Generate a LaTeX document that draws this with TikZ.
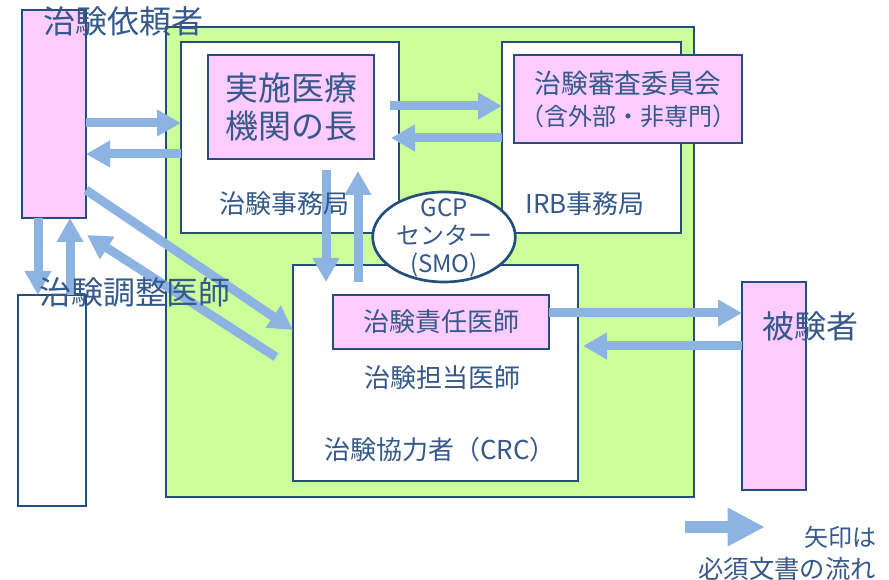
\documentclass[tikz,border=0pt]{standalone}
\usepackage{fontspec}
\setmainfont{Noto Sans CJK JP}
\usetikzlibrary{arrows.meta,fit,shapes.geometric}
\definecolor{pinkc}{HTML}{FFCCFF}
\definecolor{greenc}{HTML}{CCFF99}
\definecolor{borderc}{HTML}{244E7C}
\definecolor{arrowc}{HTML}{8DB3E2}
\definecolor{textc}{HTML}{34598A}
\begin{document}
\begin{tikzpicture}[x=0.75pt,y=-0.75pt,
  boxbase/.style={draw=borderc, line width=2pt, inner sep=0pt, outer sep=0pt},
  pinkbox/.style={boxbase, fill=pinkc},
  whitebox/.style={boxbase, fill=white},
  greenbox/.style={boxbase, fill=greenc},
  lab/.style={text=textc, inner sep=0pt, font=\fontsize{19.5}{22}\selectfont},
  biglab/.style={text=textc, inner sep=0pt, font=\fontsize{24}{26}\selectfont},
  flow/.style={draw=arrowc, line width=6.75pt, -{Triangle[length=18pt,width=19pt]}},
  legendflow/.style={draw=arrowc, line width=9pt, -{Triangle[length=28pt,width=27pt]}}
]
\useasboundingbox (0,0) rectangle (889,580);

% boxes
\node[greenbox, fit={(166,27) (694,497)}] (hosp) {};
\node[pinkbox, fit={(22,10) (86,218)}] (irai) {};
\node[whitebox, fit={(18,295) (86,506)}] (chosei) {};
\node[whitebox, fit={(181,42) (399,233)}] (jimu) {};
\node[pinkbox, fit={(208,55) (374,159)}] (cho) {};
\node[whitebox, fit={(502,42) (681,233)}] (irbjimu) {};
\node[pinkbox, fit={(514,55) (742,143)}] (irb) {};
\node[whitebox, fit={(293,265) (578,481)}] (tanto) {};
\node[pinkbox, fit={(333,295) (549,349)}] (sekinin) {};
\node[pinkbox, fit={(742,282) (806,490)}] (hiken) {};
\node[ellipse, draw=borderc, line width=2pt, fill=white, inner sep=0pt,
      minimum width=107pt, minimum height=67.5pt] (gcp) at (444,237) {};

% arrows
\draw[flow] (irai.east |- 0,123) -- (jimu.west |- 0,123);
\draw[flow] (jimu.west |- 0,154) -- (irai.east |- 0,154);
\draw[flow] (390,106) coordinate (c1) -- (irbjimu.west |- 0,106);
\draw[flow] (irbjimu.west |- 0,138) -- (391,138) coordinate (c2);
\draw[flow] (326,170) coordinate (c3) -- (326,282) coordinate (c4);
\draw[flow] (358,282) coordinate (c5) -- (358,171) coordinate (c6);
\draw[flow] (irai.east |- 0,190) -- (tanto.west |- 0,330);
\draw[flow] (276,357) coordinate (c7) -- (87,235) coordinate (c8);
\draw[flow] (irai.south -| 38,0) -- (chosei.north -| 38,0);
\draw[flow] (chosei.north -| 70,0) -- (irai.south -| 70,0);
\draw[flow] (sekinin.east |- 0,313) -- (hiken.west |- 0,313);
\draw[flow] (hiken.west |- 0,346) -- (583,346) coordinate (c9);
\draw[legendflow] (685,527) coordinate (l1) -- (765,527) coordinate (l2);

% texts
\node[text=textc, inner sep=0pt, align=center, font=\fontsize{24.75}{28.5}\selectfont] (tcho) at (cho.center) {実施医療\\機関の長};
\node[text=textc, inner sep=0pt, align=center, font=\fontsize{20}{24}\selectfont] (tirb) at (irb.center) {治験審査委員会\\{\fontsize{18}{24}\selectfont （含外部・非専門）}};
\node[lab] (tjimu) at (284,204) {治験事務局};
\node[lab] (tirbjimu) at (585,204) {IRB事務局};
\node[lab] (ttanto) at (442,378) {治験担当医師};
\node[lab] (tcrc) at (440,450) {治験協力者（CRC）};
\node[lab] (tsekinin) at (sekinin.center) {治験責任医師};
\node[text=textc, inner sep=0pt, align=center, font=\fontsize{18}{21}\selectfont] (tgcp) at (444,238) {GCP\\センター\\(SMO)};
\node[biglab] (tirai) at (123,21) {治験依頼者};
\node[biglab] (tchosei) at (135,292) {治験調整医師};
\node[biglab] (thiken) at (810,326) {被験者};
\node[text=textc, inner sep=0pt, font=\fontsize{18}{21}\selectfont] (leg1) at (840,537) {矢印は};
\node[text=textc, inner sep=0pt, font=\fontsize{19}{21}\selectfont] (leg2) at (787,569) {必須文書の流れ};
\end{tikzpicture}
\end{document}
